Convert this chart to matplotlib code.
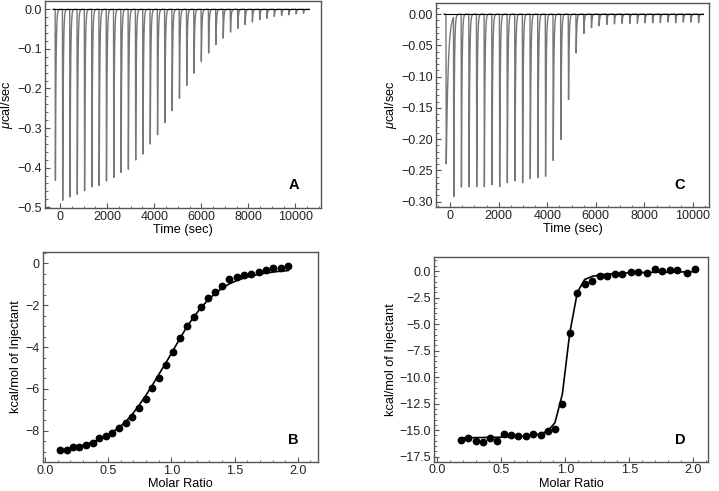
import numpy as np
import matplotlib.pyplot as plt
from matplotlib.ticker import MultipleLocator, AutoMinorLocator, FuncFormatter

plt.rcParams['font.family'] = ['Liberation Sans', 'DejaVu Sans']
plt.rcParams['mathtext.fontset'] = 'custom'
plt.rcParams['mathtext.rm'] = 'Liberation Sans'
plt.rcParams['mathtext.it'] = 'Liberation Sans:italic'

# panel A: raw titration, injection times (s) and peak heights (ucal/sec)
times_A = [-210, 100, 410, 720, 1030, 1340, 1650, 1960, 2270, 2580, 2890, 3200,
           3510, 3820, 4130, 4440, 4750, 5060, 5370, 5680, 5990, 6300, 6610,
           6920, 7230, 7540, 7850, 8160, 8470, 8780, 9090, 9400, 9710, 10020, 10330]
peaks_A = [-0.435, -0.483, -0.477, -0.469, -0.461, -0.451, -0.447, -0.437, -0.426,
           -0.416, -0.405, -0.384, -0.366, -0.343, -0.317, -0.288, -0.257, -0.226,
           -0.193, -0.162, -0.133, -0.111, -0.090, -0.073, -0.058, -0.048, -0.039,
           -0.032, -0.027, -0.023, -0.018, -0.016, -0.014, -0.012, -0.010]

# panel C: raw titration
times_C = [-170, 140, 455, 770, 1085, 1400, 1715, 2030, 2345, 2660, 2975, 3290,
           3605, 3920, 4235, 4550, 4865, 5180, 5495, 5810, 6125, 6440, 6755,
           7070, 7385, 7700, 8015, 8330, 8645, 8960, 9275, 9590, 9905, 10220]
peaks_C = [-0.240, -0.289, -0.277, -0.278, -0.277, -0.277, -0.275, -0.276, -0.271,
           -0.269, -0.270, -0.265, -0.263, -0.260, -0.236, -0.201, -0.137, -0.063,
           -0.031, -0.022, -0.019, -0.017, -0.016, -0.015, -0.015, -0.015, -0.014,
           -0.014, -0.014, -0.013, -0.014, -0.013, -0.013, -0.014]

# panel B: integrated heats and fit
ratio_B = [0.119, 0.171, 0.224, 0.271, 0.324, 0.377, 0.429, 0.480, 0.532, 0.585,
           0.638, 0.690, 0.743, 0.796, 0.848, 0.901, 0.957, 1.009, 1.067, 1.120,
           1.178, 1.233, 1.291, 1.346, 1.402, 1.457, 1.515, 1.573, 1.631, 1.689,
           1.747, 1.805, 1.863, 1.923]
heat_B = [-8.95, -8.95, -8.80, -8.77, -8.67, -8.59, -8.36, -8.25, -8.11, -7.87,
          -7.63, -7.37, -6.92, -6.47, -5.96, -5.49, -4.85, -4.25, -3.58, -2.98,
          -2.55, -2.07, -1.67, -1.35, -1.07, -0.72, -0.64, -0.56, -0.48, -0.40,
          -0.32, -0.24, -0.21, -0.13]
fit_B = [-8.93, -8.88, -8.82, -8.75, -8.66, -8.55, -8.42, -8.27, -8.08, -7.85,
         -7.57, -7.22, -6.80, -6.33, -5.84, -5.30, -4.75, -4.20, -3.60, -3.05,
         -2.55, -2.12, -1.74, -1.43, -1.18, -0.98, -0.82, -0.70, -0.60, -0.52,
         -0.46, -0.41, -0.37, -0.34]

# panel D: integrated heats and fit
ratio_D = [0.188, 0.242, 0.299, 0.357, 0.414, 0.466, 0.523, 0.578, 0.633, 0.693,
           0.750, 0.807, 0.865, 0.919, 0.977, 1.034, 1.094, 1.151, 1.211, 1.271,
           1.328, 1.385, 1.443, 1.510, 1.570, 1.635, 1.698, 1.758, 1.818, 1.875,
           1.948, 2.010]
heat_D = [-15.93, -15.71, -16.02, -16.09, -15.71, -15.99, -15.36, -15.46, -15.52,
          -15.58, -15.39, -15.46, -15.05, -14.92, -12.57, -5.87, -2.10, -1.26,
          -0.94, -0.47, -0.47, -0.31, -0.31, -0.06, -0.13, -0.16, 0.16, 0.00,
          0.09, 0.09, -0.22, 0.19]
fit_D = [-15.72, -15.71, -15.70, -15.69, -15.68, -15.67, -15.65, -15.63, -15.60,
         -15.55, -15.48, -15.35, -15.05, -14.30, -11.60, -5.90, -2.00, -0.80,
         -0.50, -0.37, -0.29, -0.24, -0.20, -0.17, -0.15, -0.13, -0.12, -0.11,
         -0.10, -0.09, -0.08, -0.07]


def itc_trace(times, peaks, taus, t_start, t_end, drop=12.0):
    # sharp drop to each peak then exponential return to baseline
    t = np.linspace(t_start, t_end, 30000)
    y = np.zeros_like(t)
    for ti, hi, tau in zip(times, peaks, taus):
        dt = t - ti
        down = (dt >= 0) & (dt < drop)
        y[down] += hi * dt[down] / drop
        up = dt >= drop
        y[up] += hi * np.exp(-(dt[up] - drop) / tau)
    return t, y


def fmt(spec):
    return FuncFormatter(lambda v, p: (spec % v).replace('-', '\u2212')
                         if abs(v) > 1e-9 else spec % 0)


def style(ax, xspec, yspec):
    for s in ax.spines.values():
        s.set_color('#555555')
        s.set_linewidth(1.0)
    ax.tick_params(which='both', direction='in', colors='#555555',
                   labelcolor='#222222', labelsize=9, pad=2)
    ax.tick_params(which='major', length=3.5)
    ax.tick_params(which='minor', length=1.8)
    ax.xaxis.set_minor_locator(AutoMinorLocator())
    ax.yaxis.set_minor_locator(AutoMinorLocator())
    ax.xaxis.set_major_formatter(fmt(xspec))
    ax.yaxis.set_major_formatter(fmt(yspec))


fig = plt.figure(figsize=(7.19, 4.91), dpi=100)
axA = fig.add_axes([0.0626, 0.5764, 0.384, 0.4216])
axC = fig.add_axes([0.6064, 0.5784, 0.3797, 0.416])
axB = fig.add_axes([0.0594, 0.0591, 0.383, 0.4277])
axD = fig.add_axes([0.6036, 0.0597, 0.3815, 0.4175])

# raw data panels
tA, yA = itc_trace(times_A, peaks_A, [25] * len(times_A), -300, 10570)
axA.plot(tA, yA, color='#777777', lw=1.0)
axA.plot([-300, 10570], [0, 0], color='black', lw=0.8)
axA.set_xlim(-640, 11090)
axA.set_ylim(-0.502, 0.021)
axA.xaxis.set_major_locator(MultipleLocator(2000))
axA.yaxis.set_major_locator(MultipleLocator(0.1))
style(axA, '%d', '%.1f')
axA.set_xlabel('Time (sec)', fontsize=9.2, labelpad=1)
axA.set_ylabel(r'$\mathit{\mu}$cal/sec', fontsize=9.2, labelpad=2)
axA.text(0.90, 0.11, 'A', transform=axA.transAxes, fontsize=10.5,
         fontweight='bold', ha='center', va='center')

tausC = [80] + [25] * (len(times_C) - 1)
tC, yC = itc_trace(times_C, peaks_C, tausC, -250, 10420)
axC.plot(tC, yC, color='#777777', lw=1.0)
axC.plot([-250, 10420], [0, 0], color='black', lw=0.8)
axC.set_xlim(-580, 10660)
axC.set_ylim(-0.3085, 0.018)
axC.xaxis.set_major_locator(MultipleLocator(2000))
axC.yaxis.set_major_locator(MultipleLocator(0.05))
style(axC, '%d', '%.2f')
axC.set_xlabel('Time (sec)', fontsize=9.2, labelpad=1)
axC.set_ylabel(r'$\mathit{\mu}$cal/sec', fontsize=9.2, labelpad=2)
axC.text(0.894, 0.108, 'C', transform=axC.transAxes, fontsize=10.5,
         fontweight='bold', ha='center', va='center')

# binding isotherms
axB.plot(ratio_B, fit_B, color='black', lw=1.2)
axB.plot(ratio_B, heat_B, 'o', color='black', markersize=4.6)
axB.set_xlim(-0.018, 2.16)
axB.set_ylim(-9.5, 0.55)
axB.xaxis.set_major_locator(MultipleLocator(0.5))
axB.yaxis.set_major_locator(MultipleLocator(2))
style(axB, '%.1f', '%d')
axB.set_xlabel('Molar Ratio', fontsize=9.2, labelpad=1)
axB.set_ylabel('kcal/mol of Injectant', fontsize=9.2, labelpad=3)
axB.text(0.909, 0.105, 'B', transform=axB.transAxes, fontsize=10.5,
         fontweight='bold', ha='center', va='center')

axD.plot(ratio_D, fit_D, color='black', lw=1.2)
axD.plot(ratio_D, heat_D, 'o', color='black', markersize=4.6)
axD.set_xlim(-0.026, 2.117)
axD.set_ylim(-17.97, 1.35)
axD.xaxis.set_major_locator(MultipleLocator(0.5))
axD.yaxis.set_major_locator(MultipleLocator(2.5))
style(axD, '%.1f', '%.1f')
axD.set_xlabel('Molar Ratio', fontsize=9.2, labelpad=1)
axD.set_ylabel('kcal/mol of Injectant', fontsize=9.2, labelpad=2)
axD.text(0.897, 0.106, 'D', transform=axD.transAxes, fontsize=10.5,
         fontweight='bold', ha='center', va='center')

fig.savefig('out.png', dpi=100)
